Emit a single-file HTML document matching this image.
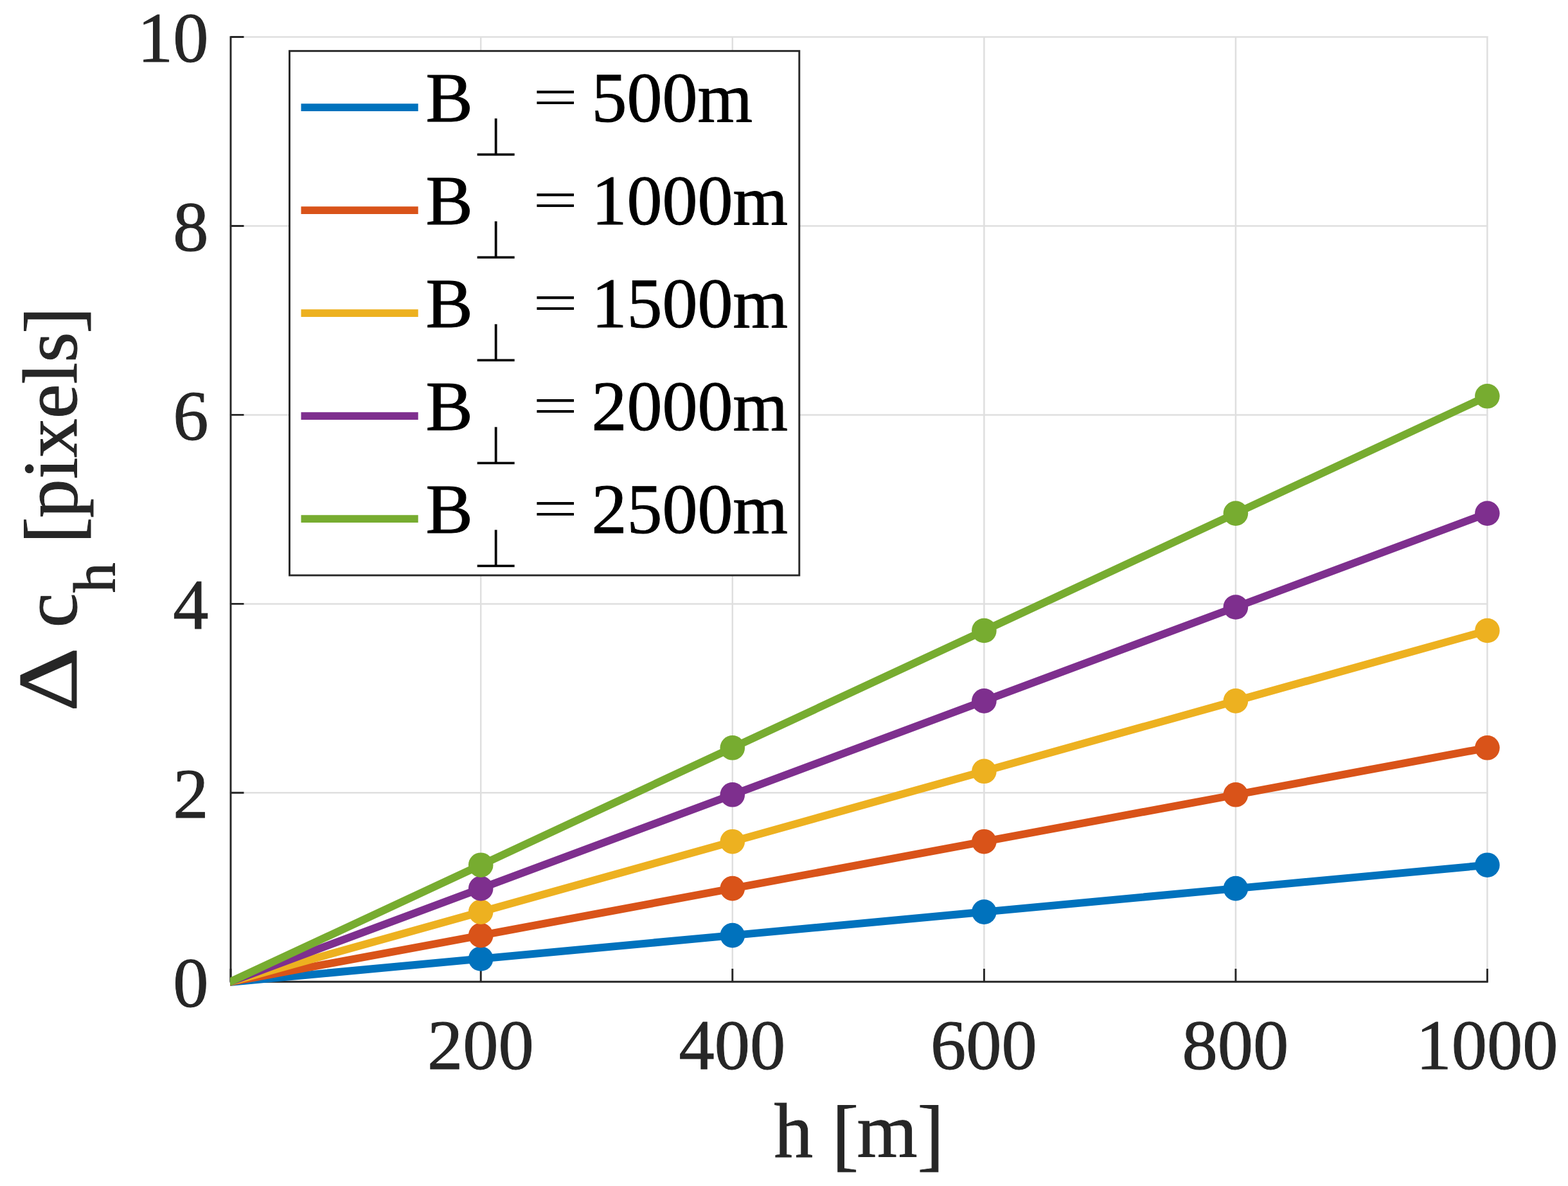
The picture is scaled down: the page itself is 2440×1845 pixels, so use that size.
<!DOCTYPE html><html><head><meta charset="utf-8"><title>Delta c_h vs h</title><style>html,body{margin:0;padding:0;background:#fff;overflow:hidden;}svg{display:block;}text{font-family:"Liberation Serif","Times New Roman",serif;}.perp{font-family:"DejaVu Sans",sans-serif;}</style></head><body><svg width="2440" height="1845" viewBox="0 0 2440 1845"><rect x="0" y="0" width="2440" height="1845" fill="#ffffff"/><path d="M748.2 57.5V1527.3M1139.8 57.5V1527.3M1531.4 57.5V1527.3M1922.9 57.5V1527.3M2314.4 57.5V1527.3M359.0 1233.3H2314.5M359.0 939.4H2314.5M359.0 645.4H2314.5M359.0 351.5H2314.5M359.0 57.5H2314.5" stroke="#dfdfdf" stroke-width="2.5" stroke-linecap="square" fill="none"/><path d="M359.0 56.3V1528.5M357.8 1527.3H2315.7" stroke="#262626" stroke-width="2.9" fill="none"/><path d="M359.0 1527.3H379.5M359.0 1233.3H379.5M359.0 939.4H379.5M359.0 645.4H379.5M359.0 351.5H379.5M359.0 57.5H379.5M359.0 1527.3V1507.0M748.2 1527.3V1507.0M1139.8 1527.3V1507.0M1531.4 1527.3V1507.0M1922.9 1527.3V1507.0M2314.4 1527.3V1507.0" stroke="#262626" stroke-width="2.9" fill="none"/><g fill="#262626" stroke="#262626" stroke-width="1.0" font-size="110.5" text-anchor="end"><text x="324.6" y="1565.6">0</text><text x="324.6" y="1271.6">2</text><text x="324.6" y="977.7">4</text><text x="324.6" y="683.7">6</text><text x="324.6" y="389.8">8</text><text x="324.6" y="95.8">10</text></g><g fill="#262626" stroke="#262626" stroke-width="1.0" font-size="110.5" text-anchor="middle"><text x="747.8" y="1662.8">200</text><text x="1139.3" y="1662.8">400</text><text x="1530.9" y="1662.8">600</text><text x="1922.4" y="1662.8">800</text><text x="2313.9" y="1662.8">1000</text></g><text fill="#262626" stroke="#262626" stroke-width="1.0" font-size="121"><tspan x="1204.6" y="1800">h </tspan><tspan x="1294.6" y="1805.6" font-size="125">[</tspan><tspan x="1333.5" y="1800">m</tspan><tspan x="1427.4" y="1805.6" font-size="125">]</tspan></text><g fill="#262626" stroke="#262626" stroke-width="1.0" transform="translate(118.5 1110) rotate(-90)"><text font-size="130.9" transform="translate(2.66 0) scale(1.1905 1)">&#916;</text><text font-size="121"><tspan x="133.8" y="0">c</tspan><tspan x="187.8" y="60" font-size="94">h </tspan><tspan x="264.3" y="5.6" font-size="125">[</tspan><tspan x="304.2" y="0">pixels</tspan><tspan x="590.9" y="5.6" font-size="125">]</tspan></text></g><defs><clipPath id="ax"><rect x="358" y="0" width="2082" height="1845"/></clipPath></defs><g clip-path="url(#ax)"><path d="M356.7 1528.0 L748.2 1491.5 L1139.8 1455.1 L1531.4 1418.6 L1922.9 1382.1 L2314.4 1345.7" stroke="#0072BD" stroke-width="12.0" fill="none" stroke-linejoin="round"/><g fill="#0072BD"><circle cx="748.2" cy="1491.5" r="19.3"/><circle cx="1139.8" cy="1455.1" r="19.3"/><circle cx="1531.4" cy="1418.6" r="19.3"/><circle cx="1922.9" cy="1382.1" r="19.3"/><circle cx="2314.4" cy="1345.7" r="19.3"/></g><path d="M356.7 1528.0 L748.2 1455.1 L1139.8 1382.1 L1531.4 1309.2 L1922.9 1236.3 L2314.4 1163.3" stroke="#D95319" stroke-width="12.0" fill="none" stroke-linejoin="round"/><g fill="#D95319"><circle cx="748.2" cy="1455.1" r="19.3"/><circle cx="1139.8" cy="1382.1" r="19.3"/><circle cx="1531.4" cy="1309.2" r="19.3"/><circle cx="1922.9" cy="1236.3" r="19.3"/><circle cx="2314.4" cy="1163.3" r="19.3"/></g><path d="M356.7 1528.0 L748.2 1418.6 L1139.8 1309.2 L1531.4 1199.8 L1922.9 1090.4 L2314.4 981.0" stroke="#EDB120" stroke-width="12.0" fill="none" stroke-linejoin="round"/><g fill="#EDB120"><circle cx="748.2" cy="1418.6" r="19.3"/><circle cx="1139.8" cy="1309.2" r="19.3"/><circle cx="1531.4" cy="1199.8" r="19.3"/><circle cx="1922.9" cy="1090.4" r="19.3"/><circle cx="2314.4" cy="981.0" r="19.3"/></g><path d="M356.7 1528.0 L748.2 1382.1 L1139.8 1236.3 L1531.4 1090.4 L1922.9 944.5 L2314.4 798.6" stroke="#7E2F8E" stroke-width="12.0" fill="none" stroke-linejoin="round"/><g fill="#7E2F8E"><circle cx="748.2" cy="1382.1" r="19.3"/><circle cx="1139.8" cy="1236.3" r="19.3"/><circle cx="1531.4" cy="1090.4" r="19.3"/><circle cx="1922.9" cy="944.5" r="19.3"/><circle cx="2314.4" cy="798.6" r="19.3"/></g><path d="M356.7 1528.0 L748.2 1345.7 L1139.8 1163.3 L1531.4 981.0 L1922.9 798.6 L2314.4 616.3" stroke="#77AC30" stroke-width="12.0" fill="none" stroke-linejoin="round"/><g fill="#77AC30"><circle cx="748.2" cy="1345.7" r="19.3"/><circle cx="1139.8" cy="1163.3" r="19.3"/><circle cx="1531.4" cy="981.0" r="19.3"/><circle cx="1922.9" cy="798.6" r="19.3"/><circle cx="2314.4" cy="616.3" r="19.3"/></g></g><rect x="450.5" y="79.3" width="793.3" height="815.7" fill="#ffffff" stroke="#262626" stroke-width="2.9"/><path d="M468.5 167.2H650.7" stroke="#0072BD" stroke-width="11.7"/><text fill="#000" stroke="#000" stroke-width="1.0" font-size="110"><tspan x="662.5" y="188.6">B</tspan><tspan class="perp" x="734.4" y="242.9" font-size="85" stroke="#fff" stroke-width="1.4">&#8869;</tspan></text><text fill="#000" font-size="110" transform="translate(829.23 178.96) scale(1.1254 0.749)">=</text><text fill="#000" stroke="#000" stroke-width="1.0" font-size="110" x="920.5" y="188.6">500m</text><path d="M468.5 327.2H650.7" stroke="#D95319" stroke-width="11.7"/><text fill="#000" stroke="#000" stroke-width="1.0" font-size="110"><tspan x="662.5" y="348.6">B</tspan><tspan class="perp" x="734.4" y="402.9" font-size="85" stroke="#fff" stroke-width="1.4">&#8869;</tspan></text><text fill="#000" font-size="110" transform="translate(829.23 338.96) scale(1.1254 0.749)">=</text><text fill="#000" stroke="#000" stroke-width="1.0" font-size="110" x="920.5" y="348.6">1000m</text><path d="M468.5 487.2H650.7" stroke="#EDB120" stroke-width="11.7"/><text fill="#000" stroke="#000" stroke-width="1.0" font-size="110"><tspan x="662.5" y="508.6">B</tspan><tspan class="perp" x="734.4" y="562.9" font-size="85" stroke="#fff" stroke-width="1.4">&#8869;</tspan></text><text fill="#000" font-size="110" transform="translate(829.23 498.96) scale(1.1254 0.749)">=</text><text fill="#000" stroke="#000" stroke-width="1.0" font-size="110" x="920.5" y="508.6">1500m</text><path d="M468.5 647.2H650.7" stroke="#7E2F8E" stroke-width="11.7"/><text fill="#000" stroke="#000" stroke-width="1.0" font-size="110"><tspan x="662.5" y="668.6">B</tspan><tspan class="perp" x="734.4" y="722.9" font-size="85" stroke="#fff" stroke-width="1.4">&#8869;</tspan></text><text fill="#000" font-size="110" transform="translate(829.23 658.96) scale(1.1254 0.749)">=</text><text fill="#000" stroke="#000" stroke-width="1.0" font-size="110" x="920.5" y="668.6">2000m</text><path d="M468.5 807.2H650.7" stroke="#77AC30" stroke-width="11.7"/><text fill="#000" stroke="#000" stroke-width="1.0" font-size="110"><tspan x="662.5" y="828.6">B</tspan><tspan class="perp" x="734.4" y="882.9" font-size="85" stroke="#fff" stroke-width="1.4">&#8869;</tspan></text><text fill="#000" font-size="110" transform="translate(829.23 818.96) scale(1.1254 0.749)">=</text><text fill="#000" stroke="#000" stroke-width="1.0" font-size="110" x="920.5" y="828.6">2500m</text></svg></body></html>
